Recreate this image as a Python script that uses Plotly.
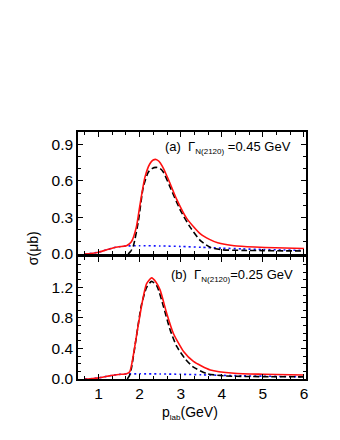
import plotly.graph_objects as go
from plotly.subplots import make_subplots

# Panel (a): Gamma = 0.45 GeV
a_red_x = [0.66, 0.8, 1.0, 1.2, 1.35, 1.5, 1.68, 1.8, 1.92, 2.0, 2.13, 2.25, 2.33, 2.4, 2.47, 2.55, 2.65, 2.74, 2.9, 3.15, 3.48, 3.7, 3.9, 4.3, 4.8, 5.3, 6.0]
a_red_y = [0.0, 0.004, 0.015, 0.035, 0.05, 0.06, 0.068, 0.1, 0.22, 0.385, 0.63, 0.74, 0.77, 0.775, 0.76, 0.72, 0.65, 0.58, 0.45, 0.29, 0.165, 0.12, 0.092, 0.068, 0.057, 0.051, 0.045]
a_dash_x = [1.72, 1.78, 1.85, 1.97, 2.09, 2.21, 2.3, 2.4, 2.5, 2.58, 2.74, 2.99, 3.23, 3.48, 3.72, 4.0, 4.5, 5.0, 5.5, 6.0]
a_dash_y = [0.0, 0.02, 0.07, 0.27, 0.55, 0.67, 0.70, 0.71, 0.70, 0.67, 0.55, 0.36, 0.22, 0.11, 0.055, 0.035, 0.03, 0.028, 0.026, 0.025]
a_dot_x = [0.66, 0.8, 1.0, 1.2, 1.35, 1.5, 1.68, 2.0, 2.5, 3.0, 3.5, 4.0, 4.5, 5.0, 5.5, 6.0]
a_dot_y = [0.0, 0.004, 0.015, 0.035, 0.05, 0.06, 0.066, 0.068, 0.066, 0.062, 0.055, 0.048, 0.042, 0.037, 0.033, 0.03]

# Panel (b): Gamma = 0.25 GeV
b_red_x = [0.66, 0.8, 1.0, 1.2, 1.35, 1.5, 1.68, 1.76, 1.84, 1.96, 2.09, 2.17, 2.29, 2.4, 2.5, 2.66, 2.82, 3.07, 3.31, 3.72, 4.3, 5.0, 6.0]
b_red_y = [0.0, 0.004, 0.015, 0.035, 0.05, 0.06, 0.07, 0.096, 0.29, 0.685, 1.08, 1.25, 1.326, 1.27, 1.165, 0.86, 0.60, 0.36, 0.23, 0.118, 0.075, 0.062, 0.052]
b_dash_x = [1.7, 1.75, 1.8, 1.92, 2.04, 2.17, 2.29, 2.42, 2.58, 2.74, 2.9, 3.1, 3.3, 3.64, 4.1, 4.6, 5.2, 6.0]
b_dash_y = [0.0, 0.04, 0.14, 0.55, 0.96, 1.2, 1.28, 1.22, 0.95, 0.65, 0.43, 0.27, 0.16, 0.07, 0.04, 0.033, 0.03, 0.028]
b_dot_x = [0.66, 0.8, 1.0, 1.2, 1.35, 1.5, 1.68, 2.0, 2.5, 3.0, 3.5, 4.0, 4.5, 5.0, 5.5, 6.0]
b_dot_y = [0.0, 0.004, 0.015, 0.035, 0.05, 0.06, 0.066, 0.068, 0.066, 0.062, 0.055, 0.048, 0.042, 0.037, 0.033, 0.03]

x_ticks = [1, 2, 3, 4, 5, 6]
a_y_ticks = [0.0, 0.3, 0.6, 0.9]
b_y_ticks = [0.0, 0.4, 0.8, 1.2]

fig = make_subplots(rows=2, cols=1, shared_xaxes=True, vertical_spacing=0.012)

def add_panel(row, rx, ry, dx, dy, ox, oy):
    fig.add_trace(go.Scatter(x=ox, y=oy, mode="lines", line=dict(color="#1010ff", width=1.6, dash="2px,3px", shape="spline", smoothing=0.6)), row=row, col=1)
    fig.add_trace(go.Scatter(x=dx, y=dy, mode="lines", line=dict(color="black", width=1.6, dash="6px,3px", shape="spline", smoothing=0.6)), row=row, col=1)
    fig.add_trace(go.Scatter(x=rx, y=ry, mode="lines", line=dict(color="#ff1010", width=1.6, shape="spline", smoothing=0.6)), row=row, col=1)

add_panel(1, a_red_x, a_red_y, a_dash_x, a_dash_y, a_dot_x, a_dot_y)
add_panel(2, b_red_x, b_red_y, b_dash_x, b_dash_y, b_dot_x, b_dot_y)

font = dict(family="Liberation Sans, Arial, sans-serif", size=14, color="black")
annfont = dict(family="Liberation Sans, Arial, sans-serif", size=13, color="black")
tickfont = dict(family="Liberation Sans, Arial, sans-serif", size=15.5, color="black")
axcommon = dict(showline=True, linecolor="black", linewidth=1.5, mirror="allticks",
                ticks="inside", ticklen=5, tickwidth=1, tickcolor="black",
                showgrid=False, zeroline=False, tickfont=tickfont, automargin=False)

fig.update_xaxes(range=[0.5, 6.05], tickvals=x_ticks, ticktext=[str(v) for v in x_ticks],
                 minor=dict(ticks="inside", ticklen=3, tickcolor="black", dtick=1/3, tick0=0), **axcommon)
fig.update_xaxes(showticklabels=False, row=1, col=1)
fig.update_yaxes(range=[0, 1.0], tickvals=a_y_ticks, ticktext=[f"{v:.1f}" for v in a_y_ticks],
                 minor=dict(ticks="inside", ticklen=3, tickcolor="black", dtick=0.1, tick0=0), row=1, col=1, **axcommon)
fig.update_yaxes(range=[0, 1.6], tickvals=b_y_ticks, ticktext=[f"{v:.1f}" for v in b_y_ticks],
                 minor=dict(ticks="inside", ticklen=3, tickcolor="black", dtick=0.1, tick0=0), row=2, col=1, **axcommon)

sub = lambda s: f"<sub><span style='font-size:8px'>{s}</span></sub>"

# the page body adds an 8px offset, so the figure is 8px smaller and margins shifted
fig.update_layout(
    width=332, height=432,
    margin=dict(l=70, r=34, t=124, b=61),
    paper_bgcolor="white", plot_bgcolor="white",
    showlegend=False, font=font,
    annotations=[
        dict(text="(a)  Γ" + sub("N(2120)") + " =0.45 GeV", xref="x domain", yref="y domain", x=0.945, y=0.87,
             xanchor="right", yanchor="middle", showarrow=False, font=annfont),
        dict(text="(b)  Γ" + sub("N(2120)") + "=0.25 GeV", xref="x2 domain", yref="y2 domain", x=0.952, y=0.85,
             xanchor="right", yanchor="middle", showarrow=False, font=annfont),
        dict(text="σ(μb)", xref="paper", yref="paper", x=-0.197, y=0.53, textangle=-90,
             xanchor="center", yanchor="middle", showarrow=False, font=font),
        dict(text="p" + sub("lab") + "(GeV)", xref="paper", yref="paper", x=0.49, y=-0.138,
             xanchor="center", yanchor="middle", showarrow=False, font=font),
    ],
)

fig.write_html("out.html")
